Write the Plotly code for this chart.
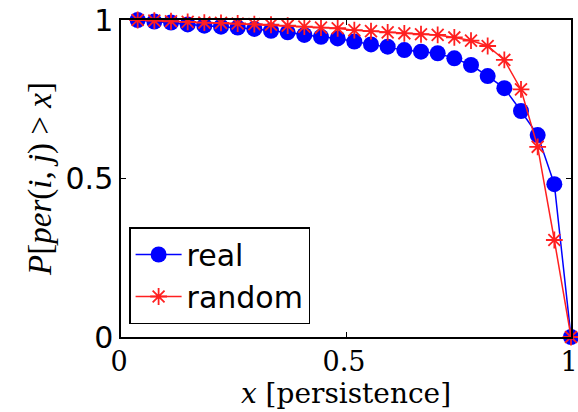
import plotly.graph_objects as go

x_vals = [k / 27 for k in range(1, 28)]
real = [1.000, 0.995, 0.992, 0.986, 0.982, 0.979, 0.976, 0.972, 0.966, 0.961,
        0.953, 0.947, 0.942, 0.932, 0.923, 0.916, 0.905, 0.900, 0.895, 0.879,
        0.858, 0.823, 0.785, 0.713, 0.637, 0.482, 0.0]
random_ = [1.000, 0.998, 0.996, 0.994, 0.992, 0.991, 0.989, 0.987, 0.985, 0.982,
           0.979, 0.976, 0.974, 0.968, 0.965, 0.961, 0.958, 0.955, 0.953, 0.945,
           0.935, 0.918, 0.874, 0.781, 0.600, 0.306, 0.0]

fig = go.Figure()
fig.add_trace(go.Scatter(
    x=x_vals, y=real, name="real", mode="lines+markers",
    line=dict(color="#0000ff", width=1.5),
    marker=dict(symbol="circle", size=16, color="#0000ff"),
    cliponaxis=False,
))
fig.add_trace(go.Scatter(
    x=x_vals, y=random_, name="random", mode="lines+markers",
    line=dict(color="#ff2020", width=1.5),
    marker=dict(symbol="asterisk-open", size=14, color="#ff2020",
                line=dict(color="#ff2020", width=1.8)),
    cliponaxis=False,
))

fig.update_layout(
    width=578, height=412,
    margin=dict(l=121, r=7, t=20, b=75),
    paper_bgcolor="white", plot_bgcolor="white",
    showlegend=True,
    legend=dict(
        x=0.018, y=0.347, xanchor="left", yanchor="top",
        bordercolor="black", borderwidth=1.5, bgcolor="white",
        font=dict(family="DejaVu Sans, sans-serif", size=30, color="black"),
        tracegroupgap=0, itemwidth=46,
    ),
    xaxis=dict(
        range=[0, 1], tickvals=[0, 0.5, 1], ticktext=["0", "0.5", "1"],
        showgrid=False, zeroline=False, showline=True, linecolor="black",
        linewidth=1.5, mirror="ticks", ticks="inside", ticklen=5,
        tickcolor="black", automargin=False, ticklabeloverflow="allow",
        ticklabelshift=-2,
        tickfont=dict(family="DejaVu Serif, serif", size=27, color="black"),
        title=dict(text="<i>x</i> [persistence]", standoff=2,
                   font=dict(family="DejaVu Serif, serif", size=28, color="black")),
    ),
    yaxis=dict(
        range=[0, 1], tickvals=[0, 0.5, 1], ticktext=["0", "0.5", "1"],
        showgrid=False, zeroline=False, showline=True, linecolor="black",
        linewidth=1.5, mirror="ticks", ticks="inside", ticklen=5,
        tickcolor="black", automargin=False, ticklabeloverflow="allow",
        tickfont=dict(family="DejaVu Sans, sans-serif", size=30, color="black"),
        title=dict(text="<i>P</i>[<i>per</i>(<i>i</i>, <i>j</i>) > <i>x</i>]", standoff=4,
                   font=dict(family="Liberation Serif, serif", size=33, color="black")),
    ),
)

fig.write_html(
    "out.html",
    config={"displayModeBar": False},
    post_script="document.body.style.margin='0';document.body.style.overflow='hidden';"
                "document.documentElement.style.overflow='hidden';",
)
